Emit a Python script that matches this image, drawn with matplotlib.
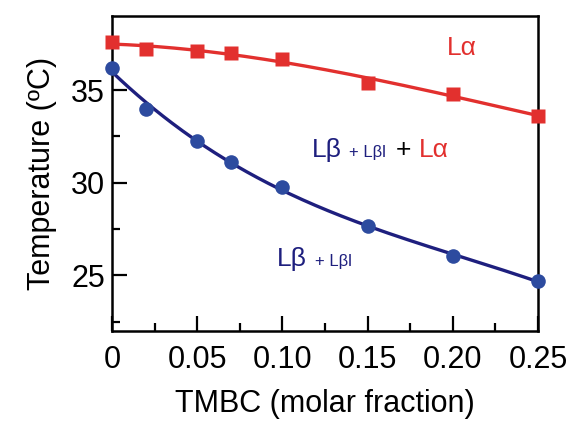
import numpy as np
import matplotlib
matplotlib.use("Agg")
import matplotlib.pyplot as plt
from matplotlib.ticker import FixedLocator

plt.rcParams['font.family'] = ['Liberation Sans', 'DejaVu Sans']

x_frac = [0, 0.02, 0.05, 0.07, 0.10, 0.15, 0.20, 0.25]
t_alpha = [37.6, 37.2, 37.1, 37.0, 36.7, 35.4, 34.8, 33.6]
t_beta = [36.2, 34.0, 32.25, 31.1, 29.75, 27.65, 26.05, 24.7]
x_ticks = [0, 0.05, 0.10, 0.15, 0.20, 0.25]
x_ticklabels = ['0', '0.05', '0.10', '0.15', '0.20', '0.25']
y_ticks = [25, 30, 35]

RED = '#e2302e'
NAVY = '#1e1f7e'
BLUE = '#2d4b9f'

W, H = 575, 421
fig = plt.figure(figsize=(W / 100, H / 100), dpi=100)
L, R, T, B = 112, 538, 16, 331
ax = fig.add_axes([L / W, 1 - B / H, (R - L) / W, (B - T) / H])

xs = np.linspace(0, 0.25, 200)
pa = np.polyfit(x_frac, t_alpha, 3)
pb = np.polyfit(x_frac, t_beta, 3)
ax.plot(xs, np.polyval(pa, xs), color=RED, lw=2.4, zorder=2, clip_on=False)
ax.plot(xs, np.polyval(pb, xs), color=NAVY, lw=2.4, zorder=2, clip_on=False)
ax.plot(x_frac, t_alpha, 's', color=RED, ms=9.5, mec='none', zorder=3, clip_on=False)
ax.plot(x_frac, t_beta, 'o', color=BLUE, ms=10.5, mec='none', zorder=3, clip_on=False)

ax.set_xlim(0, 0.25)
ax.set_ylim(22, 39)
ax.set_xticks(x_ticks)
ax.set_xticklabels(x_ticklabels)
ax.set_yticks(y_ticks)
ax.xaxis.set_minor_locator(FixedLocator([0.025, 0.075, 0.125, 0.175, 0.225]))
ax.yaxis.set_minor_locator(FixedLocator([22.5, 27.5, 32.5]))
ax.tick_params(which='both', direction='in', width=1.6, labelsize=22, colors='black')
ax.tick_params(which='major', length=11)
ax.tick_params(which='minor', length=6)
ax.tick_params(axis='x', pad=10)
ax.tick_params(axis='y', pad=5)
for s in ax.spines.values():
    s.set_linewidth(1.8)

ax.set_xlabel('TMBC (molar fraction)', fontsize=22, labelpad=10)
ax.set_ylabel('Temperature (ºC)', fontsize=22, labelpad=10)

def ftext(px, py, s, size, color):
    fig.text(px / W, 1 - py / H, s, fontsize=size, color=color, ha='left', va='baseline')

ftext(447, 55, 'Lα', 19, RED)
ftext(312, 157, 'Lβ', 19, NAVY)
ftext(349, 157, '+ Lβl', 12, NAVY)
ftext(396, 157, '+', 19, 'black')
ftext(419, 157, 'Lα', 19, RED)
ftext(277, 266, 'Lβ', 19, NAVY)
ftext(315, 266, '+ Lβl', 12, NAVY)

fig.savefig('out.png', dpi=100)
